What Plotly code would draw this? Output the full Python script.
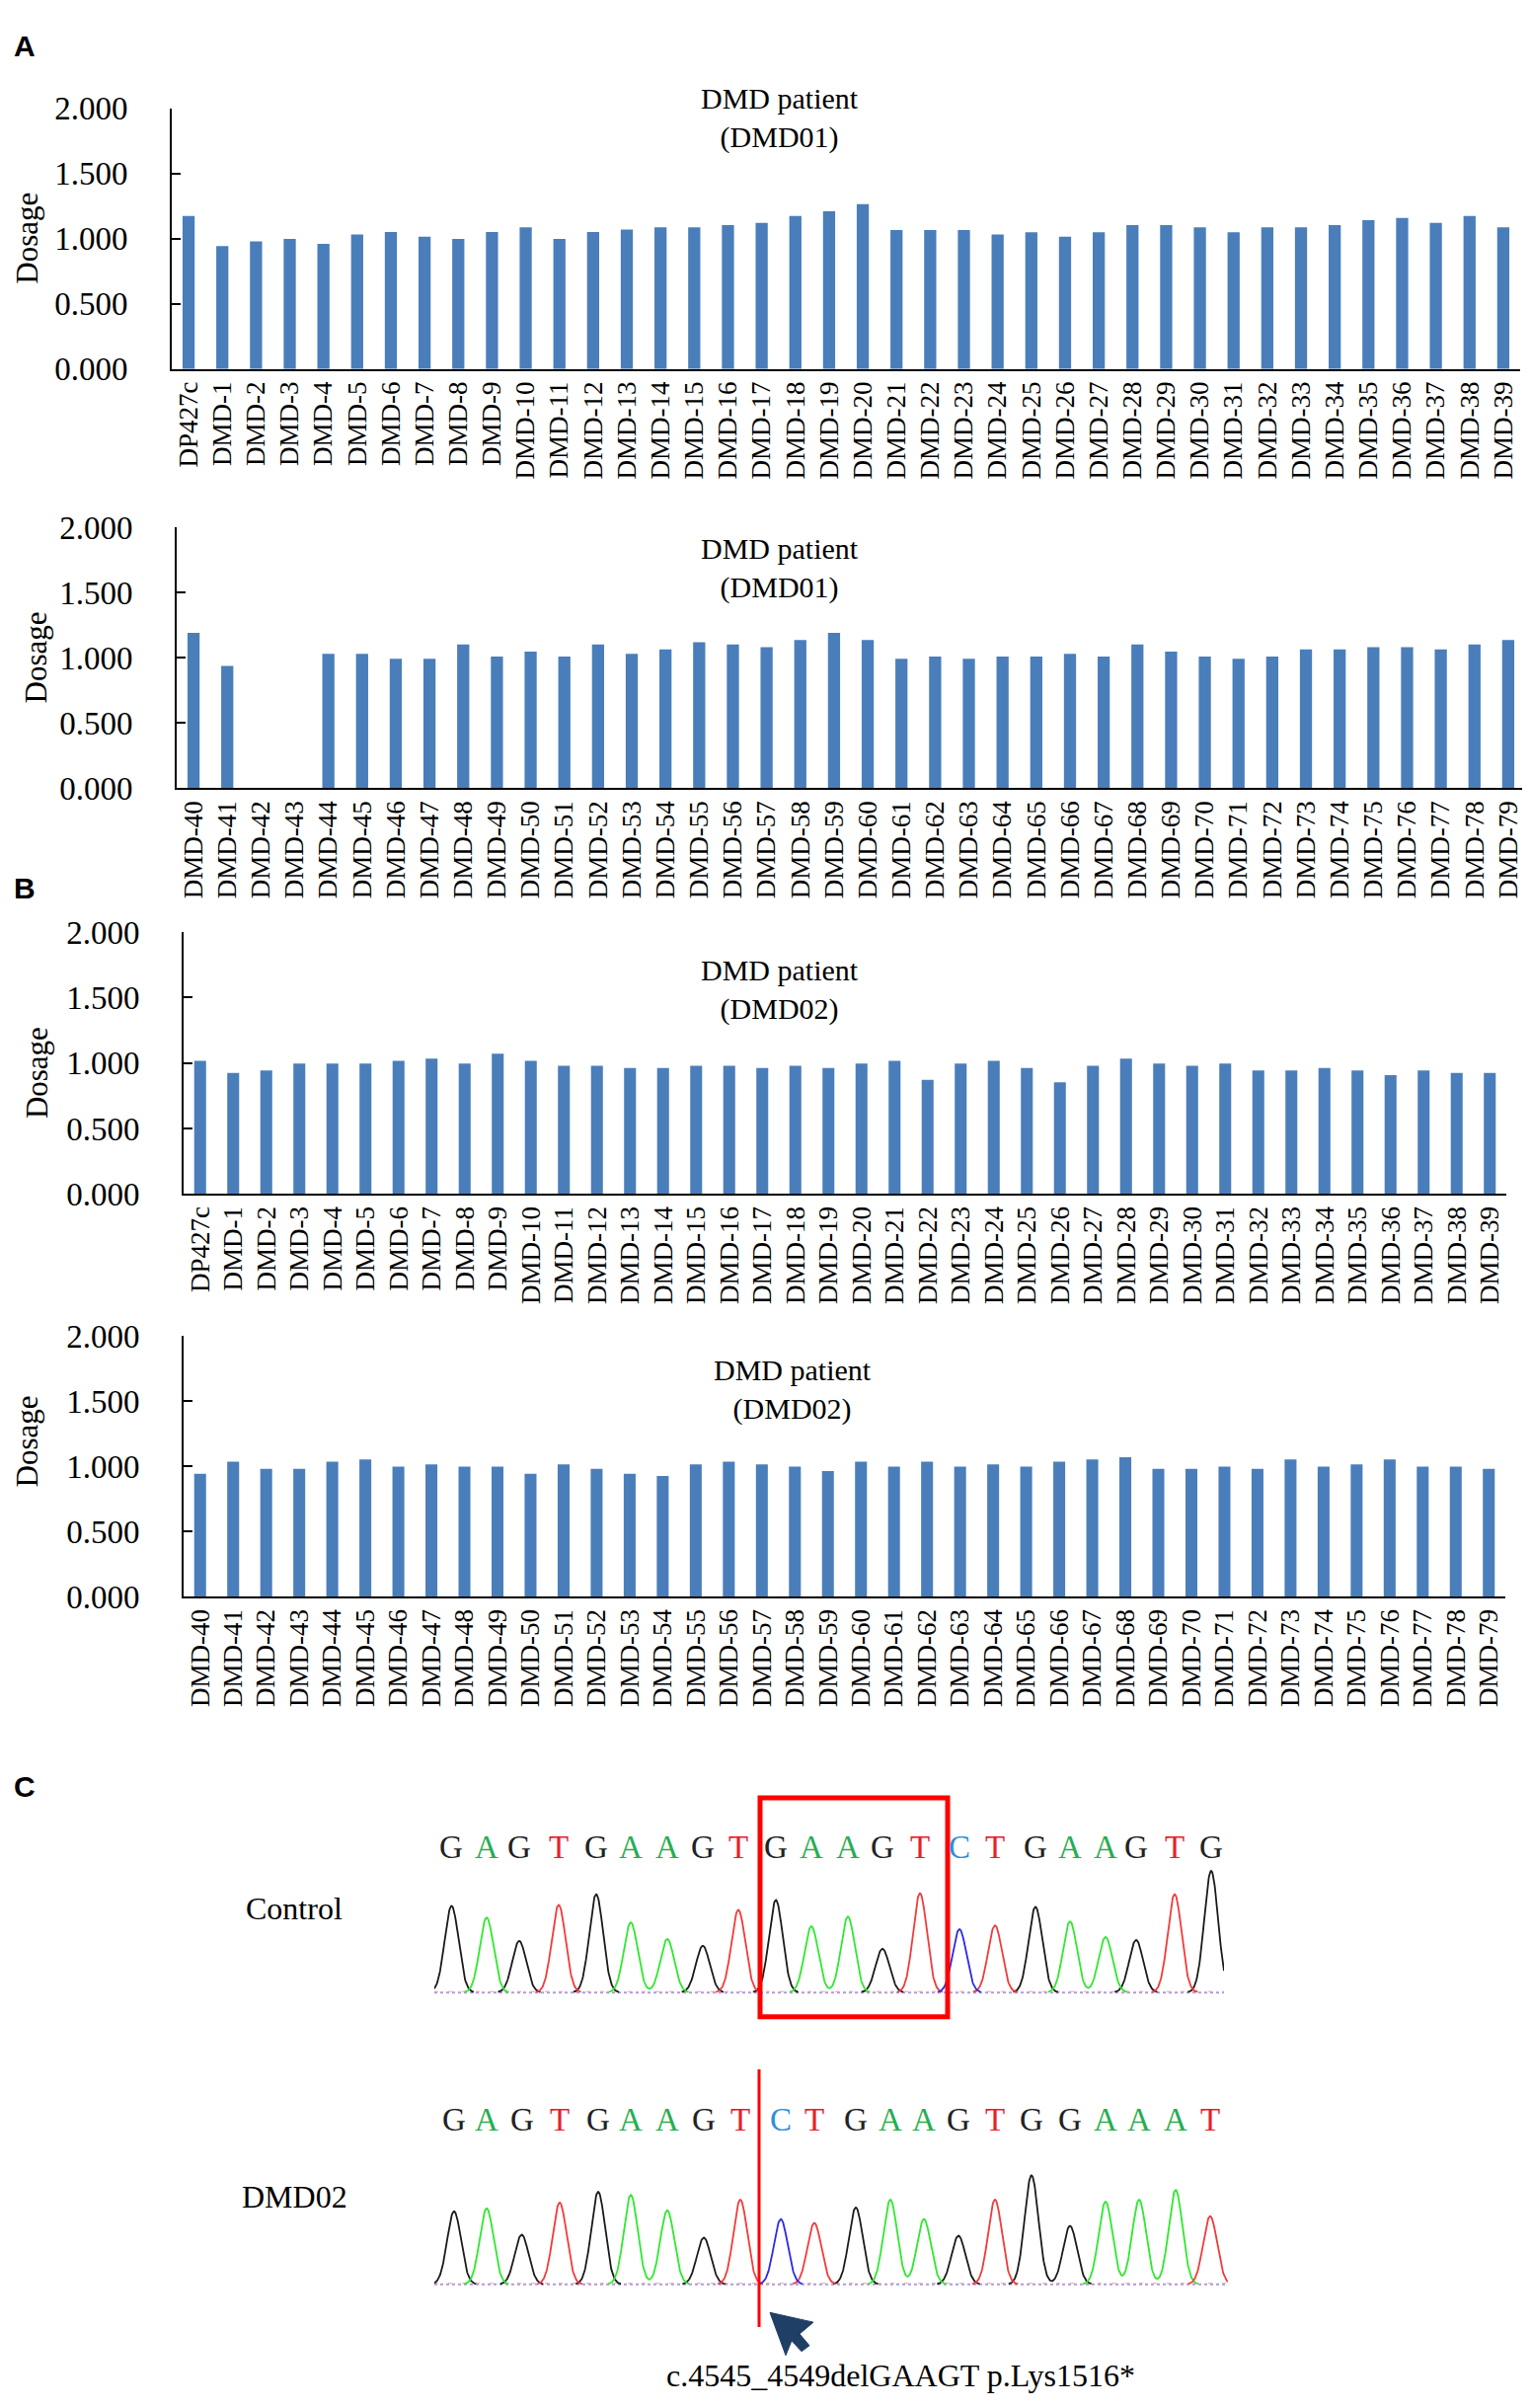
import numpy as np
import plotly.graph_objects as go

W, H = 1550, 2439
BLUE = "#4a7ebb"
SERIF = "Liberation Serif"

# ---- panel A / B dosage data ----
labels_1 = ["DP427c"] + ["DMD-%d" % i for i in range(1, 40)]
labels_2 = ["DMD-%d" % i for i in range(40, 80)]

dmd01_part1 = [1.174, 0.943, 0.980, 0.998, 0.960, 1.032, 1.052, 1.015, 0.998, 1.052,
               1.087, 0.998, 1.052, 1.070, 1.087, 1.087, 1.104, 1.122, 1.174, 1.211,
               1.266, 1.067, 1.067, 1.067, 1.032, 1.050, 1.015, 1.050, 1.104, 1.104,
               1.087, 1.050, 1.087, 1.087, 1.104, 1.142, 1.159, 1.122, 1.174, 1.087]
dmd01_part2 = [1.193, 0.939, 0.0, 0.0, 1.031, 1.031, 0.994, 0.994, 1.103, 1.011,
               1.048, 1.011, 1.103, 1.031, 1.066, 1.120, 1.103, 1.083, 1.138, 1.193,
               1.138, 0.994, 1.011, 0.994, 1.011, 1.011, 1.031, 1.011, 1.103, 1.048,
               1.011, 0.994, 1.011, 1.066, 1.066, 1.083, 1.083, 1.066, 1.103, 1.138]
dmd02_part1 = [1.016, 0.924, 0.944, 0.996, 0.996, 0.996, 1.016, 1.033, 0.996, 1.071,
               1.016, 0.979, 0.979, 0.962, 0.962, 0.979, 0.979, 0.962, 0.979, 0.962,
               0.996, 1.016, 0.872, 0.996, 1.016, 0.962, 0.853, 0.979, 1.033, 0.996,
               0.979, 0.996, 0.944, 0.944, 0.962, 0.944, 0.907, 0.944, 0.924, 0.924]
dmd02_part2 = [0.943, 1.035, 0.980, 0.980, 1.035, 1.052, 0.998, 1.015, 0.998, 0.998,
               0.943, 1.015, 0.980, 0.943, 0.925, 1.015, 1.035, 1.015, 0.998, 0.963,
               1.035, 0.998, 1.035, 0.998, 1.015, 0.998, 1.035, 1.052, 1.070, 0.980,
               0.980, 0.998, 0.980, 1.052, 0.998, 1.015, 1.052, 0.998, 0.998, 0.980]

# ---- panel C chromatogram peaks (scan position, intensity) ----
ctrl_bases = "GAGTGAAGTGAAGTCTGAAGTG"
ctrl_pos = [17.5, 53, 86, 126, 164, 199, 236, 272, 308, 346, 382, 419, 454, 492,
            532, 568, 609, 644, 680, 711, 750, 787]
ctrl_height = [89, 77, 53, 90, 101, 72, 55, 48, 85, 95, 68, 78, 45, 102,
               65, 69, 88, 73, 57, 54, 101, 125]

mut_bases = "GAGTGAAGTCTGAAGTGGAAAT"
mut_pos = [20, 53, 88.5, 127, 166, 199, 236, 273, 310, 351, 385, 427, 462, 496,
           531, 568, 605, 644, 680, 714, 751, 786]
mut_height = [75, 78, 51, 84, 95, 92, 76, 48, 87, 67, 63, 79, 87, 67,
              50, 87, 112, 60, 85, 87, 97, 70]

trace_col = {"G": "#1a1a1a", "A": "#2ee82e", "T": "#f23a3a", "C": "#2a2ae6"}
letter_col = {"G": "#222222", "A": "#27ae4f", "T": "#e8202a", "C": "#2f8fd8"}


def px(x):
    return x / W


def py(y):
    return 1 - y / H


def label(text, x, y, size, color="black", family=SERIF, angle=0):
    return dict(text=text, x=px(x), y=py(y), xref="paper", yref="paper",
                xanchor="center", yanchor="middle", showarrow=False, textangle=angle,
                font=dict(family=family, size=size, color=color))


fig = go.Figure()
annotations = []
shapes = []

# bar panels: (labels, values, left, right, y of 2.000, y of 0.000, subtitle, title x, title y, dosage x, dosage y)
panels = [
    (labels_1, dmd01_part1, 166, 1532, 86, 354, "(DMD01)", 782, 96, 20, 220),
    (labels_2, dmd01_part2, 171, 1537, 517, 785, "(DMD01)", 782, 559, 28, 651),
    (labels_1, dmd02_part1, 178, 1518, 933, 1202, "(DMD02)", 782, 992, 29, 1078),
    (labels_2, dmd02_part2, 178, 1517, 1348, 1616, "(DMD02)", 795, 1403, 19, 1457),
]

layout_axes = {}
for i, (labs, vals, x0, x1, ytop, ybot, sub, tx, ty, dx, dy) in enumerate(panels):
    n = i + 1
    xa = "x" if n == 1 else "x%d" % n
    ya = "y" if n == 1 else "y%d" % n
    fig.add_trace(go.Bar(x=labs, y=vals, xaxis=xa, yaxis=ya, width=0.36,
                         marker=dict(color=BLUE, line=dict(width=0)),
                         showlegend=False, hoverinfo="x+y"))
    layout_axes["xaxis" if n == 1 else "xaxis%d" % n] = dict(
        domain=[px(x0), px(x1)], anchor=ya, type="category",
        range=[-0.5, len(labs) - 0.5], showline=True, linecolor="black",
        linewidth=2, ticks="", tickangle=-90, showgrid=False, zeroline=False,
        tickfont=dict(family=SERIF, size=27, color="black"), fixedrange=True)
    layout_axes["yaxis" if n == 1 else "yaxis%d" % n] = dict(
        domain=[py(ybot), py(ytop)], anchor=xa, range=[0, 2],
        tickvals=[0, 0.5, 1, 1.5, 2], tickformat=".3f", showline=True,
        linecolor="black", linewidth=2, ticks="inside", ticklen=9,
        tickwidth=2, tickcolor="black", showgrid=False, zeroline=False,
        ticklabelstandoff=36,
        tickfont=dict(family=SERIF, size=33, color="black"), fixedrange=True)
    annotations.append(label("DMD patient<br>" + sub, tx, ty, 30))
    annotations.append(label("Dosage", dx, dy, 31, angle=-90))

# chromatograms
chrom = [
    (ctrl_bases, ctrl_pos, ctrl_height, 800, 432, 2023, 1874, "Control", 1937, 5),
    (mut_bases, mut_pos, mut_height, 804, 432, 2323, 2154, "DMD02", 2233, 6),
]
sigma = 7.0
for bases, pos, hts, xmax, left, base_y, letter_y, name, name_y, n in chrom:
    xa, ya = "x%d" % n, "y%d" % n
    xs = np.linspace(0, xmax, 1600)
    # faint noisy baseline
    fig.add_trace(go.Scatter(x=[0, xmax], y=[0, 0], xaxis=xa, yaxis=ya, mode="lines",
                             line=dict(color="#b09ae0", width=2, dash="dot"),
                             showlegend=False, hoverinfo="skip"))
    fig.add_trace(go.Scatter(x=[0, xmax], y=[1, 1], xaxis=xa, yaxis=ya, mode="lines",
                             line=dict(color="#f0a0a0", width=1, dash="4px,10px"),
                             showlegend=False, hoverinfo="skip"))
    for b in "GATC":
        ys = np.zeros_like(xs)
        for p, h, bb in zip(pos, hts, bases):
            if bb == b:
                ys += h * np.exp(-((xs - p) ** 2) / (2 * sigma ** 2))
        ys[ys < 0.4] = np.nan  # only draw the trace where that base has signal
        fig.add_trace(go.Scatter(x=xs, y=ys, xaxis=xa, yaxis=ya, mode="lines",
                                 line=dict(color=trace_col[b], width=1.8),
                                 showlegend=False, hoverinfo="skip"))
    layout_axes["xaxis%d" % n] = dict(domain=[px(left), px(left + xmax)], range=[0, xmax],
                                      anchor=ya, visible=False, fixedrange=True)
    layout_axes["yaxis%d" % n] = dict(domain=[py(base_y + 10), py(base_y - 140)],
                                      range=[-10, 140], anchor=xa, visible=False,
                                      fixedrange=True)
    for p, bb in zip(pos, bases):
        annotations.append(dict(text=bb, x=p, xref=xa, y=py(letter_y), yref="paper",
                                xanchor="center", yanchor="middle", showarrow=False,
                                font=dict(family=SERIF, size=33, color=letter_col[bb])))
    annotations.append(label(name, 290, name_y, 32))

# panel letters
for letter, yy in [("A", 22), ("B", 888), ("C", 1811)]:
    annotations.append(label("<b>%s</b>" % letter, 17, yy, 30, family="Liberation Sans"))

annotations.append(label("c.4545_4549delGAAGT p.Lys1516*", 904, 2417, 32))

# deleted region box and breakpoint line
shapes.append(dict(type="rect", xref="paper", yref="paper", x0=px(762), x1=px(952),
                   y0=py(2048), y1=py(1823), line=dict(color="#ff0000", width=5)))
shapes.append(dict(type="line", xref="paper", yref="paper", x0=px(761), x1=px(761),
                   y0=py(2102), y1=py(2367), line=dict(color="#ff0000", width=3)))
# arrowhead pointing to the breakpoint
arrow_pts = [(772, 2352), (816, 2362), (802, 2374), (812, 2386), (804, 2392),
             (794, 2381), (788, 2396)]
path = "M " + " L ".join("%.5f,%.5f" % (px(a), py(b)) for a, b in arrow_pts) + " Z"
shapes.append(dict(type="path", xref="paper", yref="paper", path=path,
                   fillcolor="#1f3f66", line=dict(color="#1f3f66", width=1)))

fig.update_layout(width=W, height=H, margin=dict(l=0, r=0, t=0, b=0),
                  paper_bgcolor="white", plot_bgcolor="white", bargap=0.64,
                  annotations=annotations, shapes=shapes, **layout_axes)

fig.write_html("out.html")
